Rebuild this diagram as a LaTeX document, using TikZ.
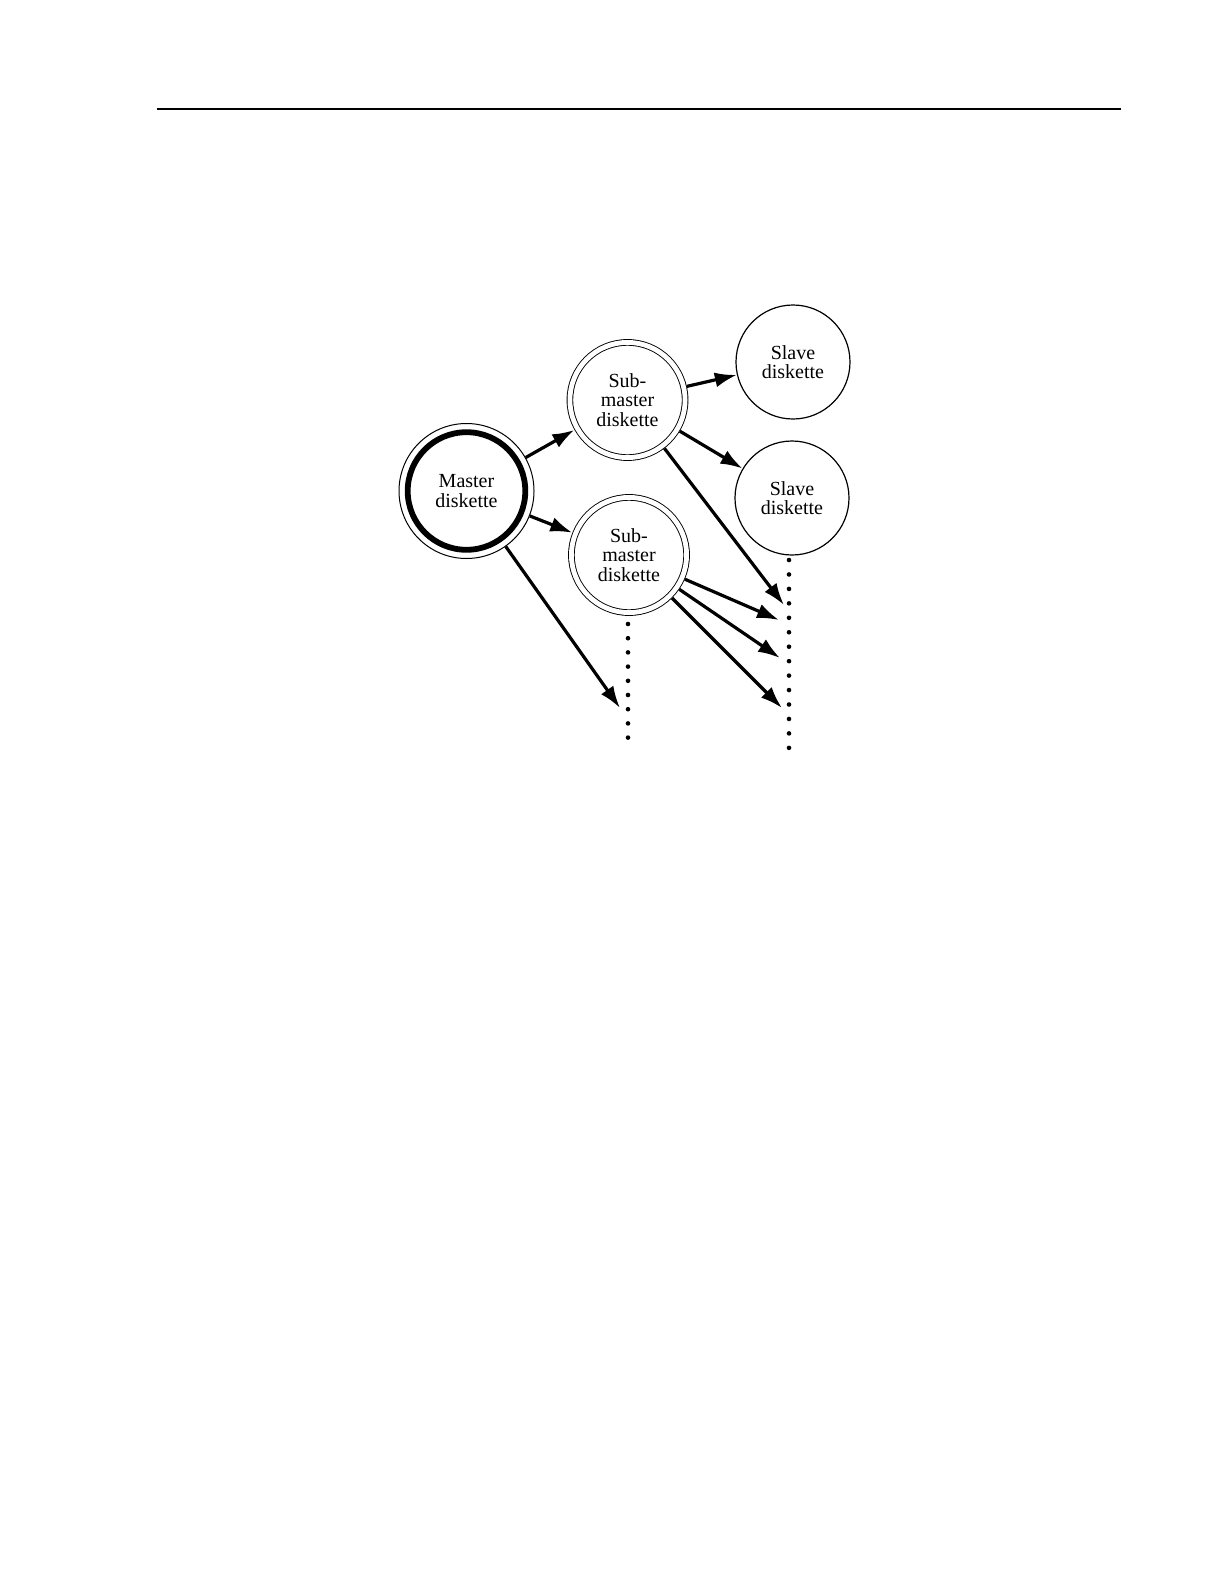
\documentclass[tikz,border=0pt]{standalone}
\usepackage{fontspec}
\setmainfont{Liberation Serif}
\usetikzlibrary{arrows.meta}

\begin{document}
\begin{tikzpicture}[x=0.5pt, y=-0.5pt,
    disk/.style={circle, draw, line width=0.6pt, align=center, inner sep=0pt,
      font=\fontsize{10}{9.8}\selectfont},
    submaster/.style={disk, double, double distance=2.4pt, line width=0.45pt,
      minimum size=57.6pt, outer sep=1.65pt},
    slave/.style={disk, minimum size=57pt},
    copyto/.style={-{Latex[length=11pt, width=7.5pt]}, line width=1.6pt}]
  \useasboundingbox (0, 0) rectangle (1224, 1584);
  \draw[line width=0.8pt] (157, 109) -- (1121, 109);
  % diskettes
  \node[disk, minimum size=67.5pt, line width=0.5pt] (master) at (466.5, 491) {Master\\diskette};
  \draw[line width=2.9pt] (master.center) circle (29.4pt);
  \node[submaster] (sub1) at (627.5, 400) {Sub-\\master\\diskette};
  \node[submaster] (sub2) at (629, 555) {Sub-\\master\\diskette};
  \node[slave] (slave1) at (793, 362) {Slave\\diskette};
  \node[slave] (slave2) at (792, 498) {Slave\\diskette};
  % dotted columns
  \foreach \y in {0,...,8} {
    \fill (628, 624 + 14.2*\y) circle (1.15pt);
  }
  \foreach \y in {0,...,13} {
    \fill (789, 560 + 14.45*\y) circle (1.15pt);
  }
  \coordinate (m1) at (620, 708);
  \coordinate (s1) at (784, 605);
  \coordinate (t1) at (779, 620);
  \coordinate (t2) at (780, 658);
  \coordinate (t3) at (782, 708);
  % copies
  \draw[copyto] (master) -- (sub1);
  \draw[copyto] (master) -- (sub2);
  \draw[copyto] (master) -- (m1);
  \draw[copyto] (sub1) -- (slave1);
  \draw[copyto] (sub1) -- (slave2);
  \draw[copyto] (sub1) -- (s1);
  \draw[copyto] (sub2) -- (t1);
  \draw[copyto] (sub2) -- (t2);
  \draw[copyto] (sub2) -- (t3);
\end{tikzpicture}
\end{document}
